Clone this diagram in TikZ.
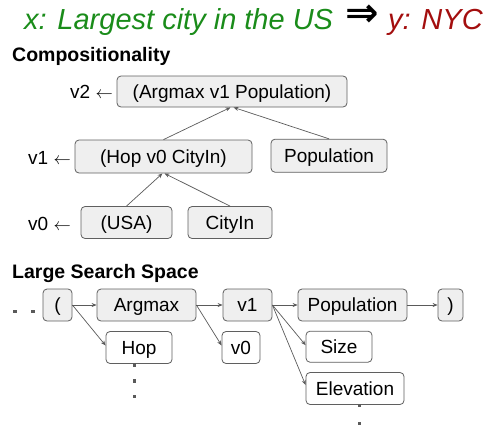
\documentclass[tikz,border=0pt]{standalone}
\usepackage{fontspec}
\setmainfont{Liberation Sans}
\newfontfamily\arrowfont{DejaVu Sans}
\usetikzlibrary{arrows.meta}
\definecolor{titlegreen}{HTML}{1A8C1A}
\definecolor{titlered}{HTML}{A30E0E}
\definecolor{boxfill}{HTML}{EFEFEF}
\definecolor{boxline}{HTML}{5F5F5F}
\definecolor{edgegray}{HTML}{5A5A5A}
\begin{document}
\begin{tikzpicture}[x=1pt,y=-1pt,
  box/.style={draw=boxline, line width=0.8pt, rounded corners=4pt, inner sep=0pt,
    minimum height=32pt, font=\fontsize{19}{19}\selectfont,
    text height=13.6pt, text depth=0pt},
  gbox/.style={box, fill=boxfill},
  wbox/.style={box, fill=white},
  link/.style={draw=edgegray, line width=0.7pt, -{Stealth[length=5pt,width=4pt]}},
  lbl/.style={anchor=base east, inner sep=0pt, font=\fontsize{19}{19}\selectfont},
  head/.style={anchor=base west, inner sep=0pt, font=\fontsize{19.5}{19.5}\selectfont\bfseries},
  headline/.style={anchor=base west, inner sep=0pt, font=\fontsize{29}{29}\selectfont\itshape},
  dot/.style={fill=edgegray}
]
\useasboundingbox (0,0) rectangle (484,426);

% headline: utterance and its denotation
\node[headline, text=titlegreen] (utt) at (24,29.5) {x: Largest city in the US};
\node[anchor=base, inner sep=0pt, text height=20pt, text depth=0pt,
      font=\arrowfont\bfseries\fontsize{40}{40}\selectfont] (imp) at (362,26.5) {⇒};
\node[headline, text=titlered] (den) at (388,29.5) {y: NYC};

% ---- compositional program tree ----
\node[head] (hcomp) at (12,61) {Compositionality};

\node[gbox, minimum width=230pt, minimum height=31pt] (arg) at (232,91.5) {(Argmax v1 Population)};
\node[gbox, minimum width=177pt, minimum height=33pt] (hop) at (163.5,156.5) {(Hop v0 CityIn)};
\node[gbox, minimum width=116pt, minimum height=33pt] (pop) at (329,155.7) {Population};
\node[gbox, minimum width=91pt] (usa) at (126.5,222.5) {(USA)};
\node[gbox, minimum width=84pt] (cityin) at (230,222.5) {CityIn};

\node[lbl] (lv2) at (113,98.5) {v2 $\leftarrow$};
\node[lbl] (lv1) at (71,164) {v1 $\leftarrow$};
\node[lbl] (lv0) at (71,230) {v0 $\leftarrow$};

\draw[link] (hop.north) -- ([xshift=-1.5pt]arg.south);
\draw[link] (pop.north) -- ([xshift=1.5pt]arg.south);
\draw[link] (usa.north) -- ([xshift=-1pt]hop.south);
\draw[link] (cityin.north) -- ([xshift=1pt]hop.south);

% ---- token-by-token search ----
\node[head] (hsearch) at (12,278) {Large Search Space};

\node[gbox, minimum width=29pt] (lp) at (57.5,305) {(};
\node[gbox, minimum width=99pt] (argm) at (146.5,305) {Argmax};
\node[gbox, minimum width=49pt] (vone) at (247.5,305) {v1};
\node[gbox, minimum width=109pt] (popb) at (352.5,305) {Population};
\node[gbox, minimum width=25pt] (rp) at (450.5,305) {)};

\node[wbox, minimum width=66pt] (hopb) at (139,347.5) {Hop};
\node[wbox, minimum width=38pt] (vzero) at (241,347.5) {v0};
\node[wbox, minimum width=66pt, minimum height=31pt] (size) at (339,346.7) {Size};
\node[wbox, minimum width=98pt] (elev) at (355,388.5) {Elevation};

\draw[link] (lp.east) -- (argm.west);
\draw[link] (lp.east) -- ([yshift=2pt]hopb.west);
\draw[link] (argm.east) -- (vone.west);
\draw[link] (argm.east) -- ([yshift=2pt]vzero.west);
\draw[link] (vone.east) -- (popb.west);
\draw[link] (vone.east) -- ([yshift=1.5pt]size.west);
\draw[link] (vone.east) -- ([yshift=3.5pt]elev.west);
\draw[link] (popb.east) -- (rp.west);

% ellipsis marks
\foreach \px/\py in {15/311.7, 33/311.7,
                     134.3/365, 134.3/381, 134.3/396.7,
                     359.3/405.7, 359.3/423.3}
  \fill[dot] (\px-1.6,\py-1.6) rectangle (\px+1.6,\py+1.6);
\end{tikzpicture}
\end{document}
